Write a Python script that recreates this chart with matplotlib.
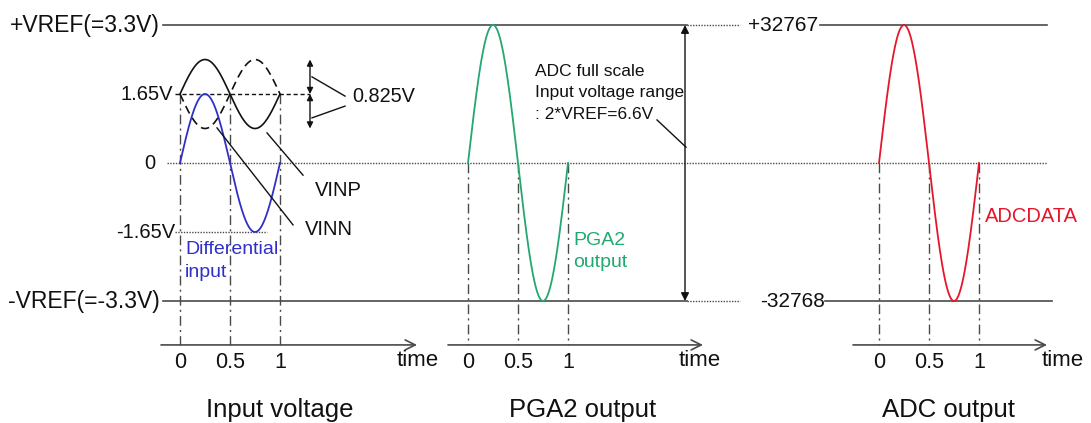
"""Differential input -> PGA2 -> ADC code diagram (three panels on one canvas)."""

import matplotlib.pyplot as plt
import numpy as np

plt.rcParams["font.family"] = ["Liberation Sans", "DejaVu Sans"]

# signal levels (V) and ADC codes
VREF = 3.3
VCM = 1.65
VAMP = 0.825
PGA_GAIN = 2
CODE_MAX = 32767
CODE_MIN = -32768

# time axis: one period, tick labels
TICKS = [0, 0.5, 1]
TICK_LABELS = ["0", "0.5", "1"]
# left edge (t=0) of each panel on the shared canvas, in canvas units (1 unit = 100 px)
PANEL_T0 = [1.80, 4.68, 8.79]
PANEL_TITLES = ["Input voltage", "PGA2 output", "ADC output"]

BLUE = "#3030c8"
GREEN = "#22a870"
RED = "#e5172c"
LINE = "#4a4a4a"
TEXT = "#111111"

t = np.linspace(0, 1, 400)
phase = np.sin(2 * np.pi * t)
vinp = VCM + VAMP * phase
vinn = VCM - VAMP * phase
vdiff = vinp - vinn
pga2 = PGA_GAIN * vdiff
adc = np.clip(np.round(pga2 / VREF * CODE_MAX), CODE_MIN, CODE_MAX)

fig = plt.figure(figsize=(10.91, 4.23), dpi=100)
ax = fig.add_axes([0, 0, 1, 1])
ax.set_xlim(0, 10.91)
ax.set_ylim(-6.217, 3.898)
ax.axis("off")

AX_Y = -4.35     # time axis level
TICK_Y = -4.76
TITLE_Y = -5.9
dashdot = (0, (7, 3, 1.5, 3))

# reference levels
ax.plot([1.63, 6.87], [VREF, VREF], color=LINE, lw=1.2)
ax.plot([6.87, 7.40], [VREF, VREF], color=LINE, lw=1.0, ls=(0, (1, 1)))
ax.plot([8.20, 10.47], [VREF, VREF], color=LINE, lw=1.2)
ax.plot([1.63, 6.87], [-VREF, -VREF], color=LINE, lw=1.2)
ax.plot([6.87, 7.40], [-VREF, -VREF], color=LINE, lw=1.0, ls=(0, (1, 1)))
ax.plot([8.25, 10.52], [-VREF, -VREF], color=LINE, lw=1.2)
ax.plot([1.67, 10.47], [0, 0], color=LINE, lw=1.0, ls=(0, (1, 1)))

# left labels
ax.text(1.60, VREF, "+VREF(=3.3V)", ha="right", va="center", fontsize=16.5, color=TEXT)
ax.text(1.60, -VREF, "-VREF(=-3.3V)", ha="right", va="center", fontsize=16.5, color=TEXT)
ax.text(1.55, 0, "0", ha="right", va="center", fontsize=14.5, color=TEXT)
ax.text(1.73, VCM, "1.65V", ha="right", va="center", fontsize=14.5, color=TEXT)
ax.text(1.75, -VCM, "-1.65V", ha="right", va="center", fontsize=14.5, color=TEXT)
ax.text(8.18, VREF, f"+{CODE_MAX}", ha="right", va="center", fontsize=15, color=TEXT)
ax.text(8.25, -VREF, f"{CODE_MIN}", ha="right", va="center", fontsize=15, color=TEXT)

# time axes, ticks, verticals
axis_ends = [(1.61, 4.17), (4.48, 7.03), (8.53, 10.47)]
time_pos = [(4.18, -4.72), (7.00, -4.72), (10.63, -4.72)]
for i, t0 in enumerate(PANEL_T0):
    x0, x1 = axis_ends[i]
    ax.annotate("", xy=(x1, AX_Y), xytext=(x0, AX_Y),
                arrowprops=dict(arrowstyle="->", color=LINE, lw=1.2,
                                mutation_scale=18, shrinkA=0, shrinkB=0))
    ax.text(*time_pos[i], "time", ha="center", va="center", fontsize=16, color=TEXT)
    top = VCM if i == 0 else 0
    for tk, lab in zip(TICKS, TICK_LABELS):
        ax.plot([t0 + tk, t0 + tk], [top, AX_Y], color=LINE, lw=1.0, ls=dashdot)
        ax.text(t0 + tk, TICK_Y, lab, ha="center", va="center", fontsize=15.5, color=TEXT)
    ax.text(t0 + [1.0, 1.15, 0.69][i], TITLE_Y, PANEL_TITLES[i], ha="center",
            va="center", fontsize=18.5, color=TEXT)

# panel 1: input voltages
p0 = PANEL_T0[0]
ax.plot([p0 - 0.05, p0 + 1.30], [VCM, VCM], color=TEXT, lw=1.0, ls=(0, (3, 2)))
ax.plot([p0 - 0.05, p0 + 0.87], [-VCM, -VCM], color=LINE, lw=1.0, ls=(0, (1, 1)))
ax.plot(p0 + t, vinp, color=TEXT, lw=1.2)
ax.plot(p0 + t, vinn, color=TEXT, lw=1.2, ls=(0, (5, 3)))
ax.plot(p0 + t, vdiff, color=BLUE, lw=1.3)

# 0.825V amplitude markers
arr = dict(arrowstyle="<|-|>", color=TEXT, lw=1.0, mutation_scale=9, shrinkA=0, shrinkB=0)
ax.annotate("", xy=(3.10, VCM + VAMP), xytext=(3.10, VCM), arrowprops=arr)
ax.annotate("", xy=(3.10, VCM), xytext=(3.10, VCM - VAMP), arrowprops=arr)
ax.plot([3.12, 3.45], [2.06, 1.60], color=TEXT, lw=1.0)
ax.plot([3.12, 3.45], [1.08, 1.36], color=TEXT, lw=1.0)
ax.text(3.52, 1.58, "0.825V", ha="left", va="center", fontsize=14.3, color=TEXT)

ax.plot([2.67, 3.03], [0.72, -0.29], color=TEXT, lw=1.0)
ax.text(3.15, -0.65, "VINP", ha="left", va="center", fontsize=14.5, color=TEXT)
ax.plot([2.17, 2.93], [0.84, -1.48], color=TEXT, lw=1.0)
ax.text(3.05, -1.60, "VINN", ha="left", va="center", fontsize=14.5, color=TEXT)
ax.text(1.85, -2.08, "Differential", ha="left", va="center", fontsize=14, color=BLUE)
ax.text(1.85, -2.61, "input", ha="left", va="center", fontsize=14, color=BLUE)

# panel 2: PGA2 output
p1 = PANEL_T0[1]
ax.plot(p1 + t, pga2, color=GREEN, lw=1.3)
ax.text(5.73, -1.85, "PGA2", ha="left", va="center", fontsize=14, color=GREEN)
ax.text(5.73, -2.38, "output", ha="left", va="center", fontsize=14, color=GREEN)
ax.annotate("", xy=(6.85, VREF), xytext=(6.85, -VREF),
            arrowprops=dict(arrowstyle="<|-|>", color=TEXT, lw=1.0,
                            mutation_scale=12, shrinkA=0, shrinkB=0))
ax.text(5.35, 2.18, "ADC full scale", ha="left", va="center", fontsize=12.5, color=TEXT)
ax.text(5.35, 1.68, "Input voltage range", ha="left", va="center", fontsize=12.5, color=TEXT)
ax.text(5.35, 1.15, ": 2*VREF=6.6V", ha="left", va="center", fontsize=12.5, color=TEXT)
ax.plot([6.57, 6.86], [1.03, 0.38], color=TEXT, lw=1.0)

# panel 3: ADC output codes, drawn on the same ±VREF scale
p2 = PANEL_T0[2]
ax.plot(p2 + t, adc / CODE_MAX * VREF, color=RED, lw=1.3)
ax.text(9.85, -1.29, "ADCDATA", ha="left", va="center", fontsize=14.5, color=RED)

fig.savefig("out.png", dpi=100)
